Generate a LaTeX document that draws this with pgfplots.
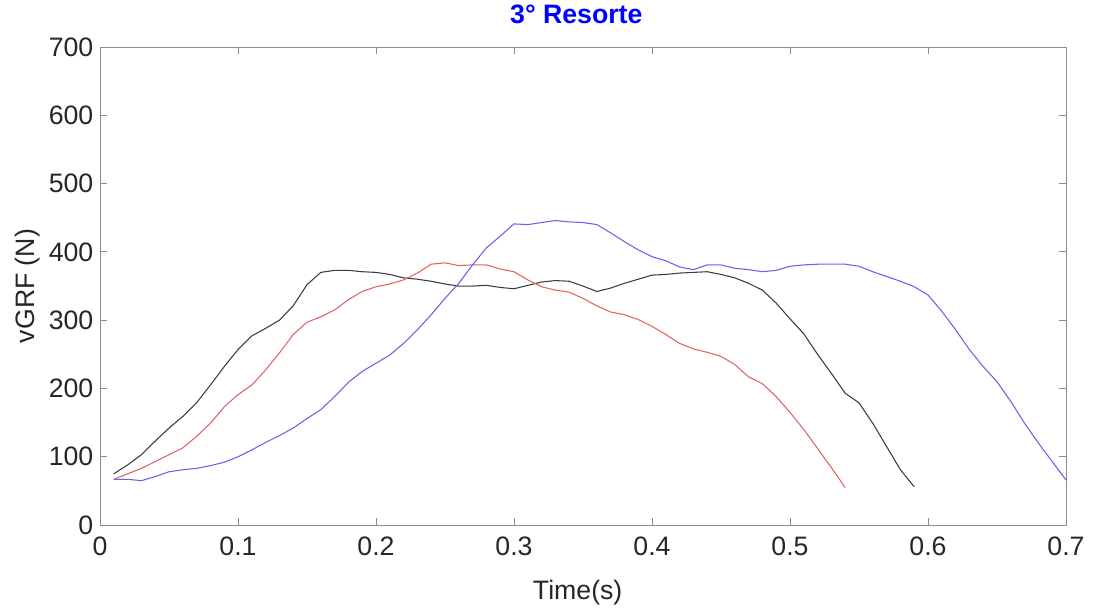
\documentclass[border=0pt]{standalone}
\usepackage{fontspec}
\setmainfont{Liberation Sans}
\usepackage{pgfplots}
\pgfplotsset{compat=1.18}
\definecolor{axgray}{HTML}{262626}
\definecolor{boxgray}{HTML}{8C8C8C}
\definecolor{mblue}{HTML}{6464EC}
\definecolor{mred}{HTML}{E26262}
\definecolor{mblack}{HTML}{3C3C3C}
\definecolor{ttl}{HTML}{0000FF}

\pgfplotstableread{
t f
0.01 75
0.02 88
0.03 103
0.04 123
0.05 142
0.06 159
0.07 179
0.08 205
0.09 232
0.10 257
0.11 277
0.12 288
0.13 300
0.14 321
0.15 352
0.16 370
0.17 373
0.18 373
0.19 371
0.20 370
0.21 367
0.22 362
0.23 360
0.24 357
0.25 353
0.26 350
0.27 350
0.28 351
0.29 348
0.30 346
0.31 351
0.32 356
0.33 358
0.34 357
0.35 350
0.36 342
0.37 347
0.38 354
0.39 360
0.40 366
0.41 367
0.42 369
0.43 370
0.44 371
0.45 367
0.46 362
0.47 354
0.48 344
0.49 325
0.50 302
0.51 280
0.52 250
0.53 222
0.54 193
0.55 179
0.56 149
0.57 115
0.58 81
0.59 56
}\blackdata

\pgfplotstableread{
t f
0.01 67
0.02 75
0.03 83
0.04 93
0.05 103
0.06 113
0.07 130
0.08 149
0.09 173
0.10 191
0.11 205
0.12 227
0.13 252
0.14 279
0.15 297
0.16 305
0.17 315
0.18 330
0.19 342
0.20 349
0.21 353
0.22 359
0.23 369
0.24 382
0.25 384
0.26 380
0.27 381
0.28 381
0.29 375
0.30 371
0.31 359
0.32 349
0.33 344
0.34 341
0.35 332
0.36 321
0.37 312
0.38 308
0.39 301
0.40 291
0.41 279
0.42 266
0.43 258
0.44 253
0.45 247
0.46 235
0.47 217
0.48 207
0.49 188
0.50 165
0.51 140
0.52 112
0.53 84
0.54 55
}\reddata

\pgfplotstableread{
t f
0.01 67
0.02 67
0.03 65
0.04 71
0.05 78
0.06 81
0.07 83
0.08 87
0.09 92
0.10 100
0.11 110
0.12 121
0.13 131
0.14 142
0.15 156
0.16 169
0.17 188
0.18 209
0.19 225
0.20 237
0.21 249
0.22 266
0.23 286
0.24 308
0.25 332
0.26 354
0.27 381
0.28 406
0.29 423
0.30 441
0.31 440
0.32 443
0.33 446
0.34 444
0.35 443
0.36 440
0.37 428
0.38 415
0.39 403
0.40 393
0.41 387
0.42 378
0.43 374
0.44 381
0.45 381
0.46 376
0.47 374
0.48 371
0.49 373
0.50 379
0.51 381
0.52 382
0.53 382
0.54 382
0.55 379
0.56 371
0.57 364
0.58 357
0.59 349
0.60 337
0.61 313
0.62 286
0.63 257
0.64 232
0.65 210
0.66 181
0.67 149
0.68 120
0.69 93
0.70 66
}\bluedata

\begin{document}
\begin{tikzpicture}
\begin{axis}[
  scale only axis,
  width=724.5pt, height=358.5pt,
  xmin=0, xmax=0.7, ymin=0, ymax=700,
  xtick={0,0.1,...,0.7}, ytick={0,100,...,700},
  xticklabels={0,0.1,0.2,0.3,0.4,0.5,0.6,0.7},
  /pgf/number format/assume math mode=true,
  tick align=inside, major tick length=5pt,
  axis line style={boxgray, line width=0.7pt},
  tick style={boxgray, line width=0.7pt},
  tick label style={font=\fontsize{20}{24}\selectfont, text=axgray},
  xticklabel style={yshift=-5pt},
  yticklabel style={xshift=-1.5pt},
  xlabel={Time(s)}, ylabel={vGRF (N)},
  label style={font=\fontsize{20}{24}\selectfont, text=axgray},
  xlabel style={at={(axis description cs:0.5,0)}, anchor=base, yshift=-56pt, xshift=-4pt},
  ylabel style={at={(axis description cs:-0.0673,0.5)}, anchor=base},
  title={\textbf{3° Resorte}},
  title style={font=\fontsize{20}{24}\selectfont, text=ttl,
               at={(axis description cs:0.5,1)}, anchor=base, yshift=12pt, xshift=-5pt},
]
\addplot[mblack, line width=0.8pt] table[x=t, y=f] {\blackdata};
\addplot[mred, line width=0.8pt] table[x=t, y=f] {\reddata};
\addplot[mblue, line width=0.8pt] table[x=t, y=f] {\bluedata};
\end{axis}
\path ([xshift=-75pt,yshift=-63pt]current axis.south west)
  rectangle ([xshift=24pt,yshift=33pt]current axis.north east);
\end{tikzpicture}
\end{document}
